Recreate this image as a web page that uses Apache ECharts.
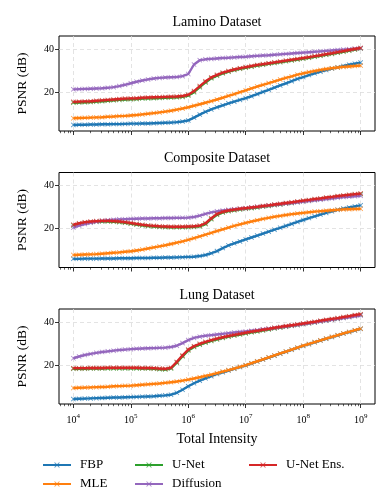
<!DOCTYPE html>
<html>
<head>
<meta charset="utf-8">
<script src="https://cdn.jsdelivr.net/npm/echarts@6/dist/echarts.min.js"></script>
<style>html,body{margin:0;padding:0;background:#fff}#c{width:390px;height:504px}</style>
</head>
<body>
<div id="c"></div>
<script>
// x: log10 of total intensity (10^4 ... 10^9)
const intensityExp = [4.0,4.1,4.2,4.3,4.4,4.5,4.6,4.7,4.8,4.9,5.0,5.1,5.2,5.3,5.4,5.5,5.6,5.7,5.8,5.9,6.0,6.1,6.2,6.3,6.4,6.5,6.6,6.7,6.8,6.9,7.0,7.1,7.2,7.3,7.4,7.5,7.6,7.7,7.8,7.9,8.0,8.1,8.2,8.3,8.4,8.5,8.6,8.7,8.8,8.9,9.0];
const majorTickExp = [4,5,6,7,8,9];
const yTicks = [20,40];
const panelTitles = ['Lamino Dataset','Composite Dataset','Lung Dataset'];
const methods = ['FBP','MLE','U-Net','Diffusion','U-Net Ens.'];

const laminoFBP = [4.8,4.9,4.9,5.0,5.0,5.1,5.1,5.2,5.2,5.3, 5.4,5.4,5.5,5.5,5.6,5.7,5.8,5.9,6.1,6.4, 6.9,8.2,9.6,10.9,12.0,13.0,13.9,14.8,15.6,16.4, 17.2,18.1,19.1,20.1,21.1,22.1,23.1,24.1,25.1,26.1, 27.0,27.9,28.7,29.5,30.2,30.9,31.5,32.1,32.7,33.2, 33.7];
const laminoMLE = [7.9,8.0,8.1,8.2,8.3,8.4,8.6,8.7,8.9,9.0, 9.2,9.4,9.7,10.0,10.3,10.6,11.0,11.4,11.9,12.4, 13.0,13.7,14.4,15.1,15.8,16.6,17.4,18.3,19.1,20.0, 20.8,21.7,22.6,23.4,24.2,25.0,25.8,26.6,27.3,28.1, 28.7,29.3,29.8,30.3,30.7,31.1,31.4,31.7,31.9,32.1, 32.3];
const laminoUNet = [15.1,15.2,15.3,15.4,15.6,15.8,16.0,16.2,16.4,16.6, 16.7,16.8,17.0,17.1,17.2,17.3,17.4,17.5,17.6,17.8, 18.4,20.0,22.3,24.5,26.4,27.6,28.7,29.5,30.2,30.8, 31.3,31.8,32.3,32.7,33.1,33.5,33.9,34.3,34.7,35.1, 35.5,35.9,36.4,36.8,37.3,37.7,38.2,38.7,39.2,39.7, 40.2];
const laminoDiffusion = [21.3,21.4,21.5,21.6,21.7,21.8,22.0,22.3,22.8,23.4, 24.1,24.8,25.4,25.9,26.3,26.6,26.8,26.9,27.0,27.4, 28.4,32.8,34.8,35.2,35.4,35.6,35.8,35.9,36.1,36.3, 36.4,36.6,36.8,37.0,37.1,37.3,37.5,37.7,37.9,38.1, 38.3,38.5,38.7,38.9,39.1,39.3,39.5,39.7,39.9,40.1, 40.3];
const laminoEns = [15.5,15.6,15.7,15.8,16.0,16.2,16.4,16.6,16.8,17.0, 17.1,17.2,17.4,17.5,17.6,17.7,17.8,17.9,18.0,18.2, 18.8,20.5,22.8,25.0,26.8,28.0,29.0,29.8,30.5,31.1, 31.6,32.1,32.6,33.0,33.4,33.8,34.2,34.6,35.0,35.4, 35.8,36.2,36.7,37.1,37.6,38.0,38.5,39.0,39.5,40.0, 40.5];

const compositeFBP = [6.0,6.0,6.1,6.1,6.1,6.2,6.2,6.2,6.3,6.3, 6.3,6.4,6.4,6.4,6.5,6.5,6.6,6.6,6.7,6.8, 6.9,7.0,7.3,7.8,8.6,9.6,11.0,12.2,13.2,14.1, 15.0,15.9,16.8,17.7,18.6,19.5,20.4,21.3,22.2,23.1, 24.0,24.9,25.7,26.5,27.3,28.0,28.7,29.3,29.8,30.3, 30.8];
const compositeMLE = [7.8,7.9,8.0,8.1,8.2,8.4,8.6,8.8,9.0,9.3, 9.5,9.9,10.3,10.8,11.3,11.8,12.3,12.9,13.5,14.1, 14.8,15.6,16.4,17.2,18.0,18.9,19.7,20.5,21.3,22.0, 22.7,23.3,23.9,24.5,25.0,25.5,25.9,26.3,26.7,27.0, 27.3,27.6,27.9,28.1,28.3,28.5,28.7,28.9,29.0,29.1, 29.2];
const compositeUNet = [21.5,22.2,22.7,23.0,23.2,23.3,23.3,23.2,23.0,22.7, 22.3,21.9,21.5,21.2,21.0,20.8,20.7,20.6,20.6,20.6, 20.7,20.8,21.1,22.1,24.4,26.4,27.5,28.1,28.5,28.9, 29.2,29.5,29.8,30.2,30.5,30.9,31.2,31.6,31.9,32.3, 32.7,33.0,33.4,33.7,34.1,34.4,34.8,35.1,35.4,35.7, 36.0];
const compositeDiffusion = [20.5,21.4,22.1,22.7,23.2,23.6,23.9,24.1,24.3,24.4, 24.5,24.6,24.7,24.7,24.8,24.8,24.9,24.9,25.0,25.0, 25.1,25.4,26.0,26.8,27.5,28.0,28.4,28.7,29.0,29.2, 29.5,29.8,30.1,30.4,30.7,31.0,31.3,31.6,31.9,32.2, 32.5,32.8,33.1,33.4,33.7,34.0,34.3,34.6,34.8,35.0, 35.2];
const compositeEns = [21.8,22.5,23.0,23.3,23.5,23.6,23.6,23.5,23.3,23.0, 22.6,22.2,21.8,21.5,21.3,21.1,21.0,20.9,20.9,20.9, 21.0,21.1,21.4,22.5,24.8,26.8,27.8,28.4,28.8,29.2, 29.5,29.8,30.1,30.5,30.8,31.2,31.5,31.9,32.2,32.6, 33.0,33.3,33.7,34.0,34.4,34.7,35.1,35.4,35.7,36.0, 36.3];

const lungFBP = [4.3,4.4,4.5,4.6,4.7,4.8,4.9,5.0,5.0,5.1, 5.2,5.3,5.4,5.5,5.6,5.8,6.0,6.3,7.2,8.6, 10.2,11.6,12.8,13.9,14.9,15.9,16.7,17.5,18.3,19.1, 19.9,20.8,21.7,22.6,23.5,24.4,25.3,26.2,27.1,28.0, 28.9,29.7,30.6,31.4,32.2,33.0,33.8,34.6,35.3,36.1, 36.8];
const lungMLE = [9.4,9.5,9.6,9.7,9.8,9.9,10.0,10.2,10.3,10.4, 10.5,10.7,10.9,11.1,11.3,11.5,11.8,12.1,12.4,12.8, 13.3,13.8,14.4,15.0,15.6,16.3,17.0,17.7,18.4,19.2, 20.0,20.9,21.8,22.7,23.6,24.5,25.4,26.3,27.2,28.1, 29.0,29.8,30.7,31.5,32.3,33.1,33.9,34.7,35.4,36.2, 36.9];
const lungUNet = [18.3,18.3,18.3,18.4,18.4,18.4,18.5,18.5,18.5,18.5, 18.5,18.5,18.4,18.4,18.3,18.1,18.0,18.5,21.1,24.1, 26.8,28.4,29.5,30.4,31.2,31.9,32.6,33.2,33.7,34.2, 34.7,35.2,35.6,36.1,36.5,37.0,37.4,37.8,38.2,38.6, 39.0,39.4,39.8,40.3,40.7,41.1,41.5,42.0,42.4,42.9, 43.3];
const lungDiffusion = [23.2,24.0,24.7,25.2,25.7,26.1,26.4,26.7,27.0,27.2, 27.4,27.6,27.7,27.8,27.9,28.0,28.1,28.4,29.0,30.2, 31.6,32.6,33.2,33.6,33.9,34.2,34.5,34.8,35.1,35.4, 35.6,35.9,36.2,36.6,36.9,37.2,37.6,37.9,38.3,38.6, 39.0,39.4,39.8,40.2,40.6,41.0,41.4,41.8,42.2,42.6, 43.0];
const lungEns = [18.6,18.6,18.6,18.7,18.7,18.7,18.8,18.8,18.8,18.8, 18.8,18.8,18.7,18.7,18.6,18.4,18.3,18.8,21.5,24.5, 27.2,28.8,29.9,30.8,31.6,32.3,32.9,33.5,34.0,34.5, 35.0,35.5,35.9,36.4,36.8,37.3,37.7,38.1,38.5,38.9, 39.3,39.7,40.1,40.6,41.0,41.4,41.8,42.3,42.7,43.2, 43.6];

const panels = [
  [laminoFBP, laminoMLE, laminoUNet, laminoDiffusion, laminoEns],
  [compositeFBP, compositeMLE, compositeUNet, compositeDiffusion, compositeEns],
  [lungFBP, lungMLE, lungUNet, lungDiffusion, lungEns]
];

const colors = ['#1f77b4','#ff7f0e','#2ca02c','#9467bd','#d62728'];
const FONT = 'Liberation Serif';
const xSym = 'path://M0,1.2L1.2,0L5,3.8L8.8,0L10,1.2L6.2,5L10,8.8L8.8,10L5,6.2L1.2,10L0,8.8L3.8,5Z';

// minor ticks positions (log10 of k*10^n)
const minorTicks = [];
for (let n = 3; n <= 9; n++) {
  for (let k = 2; k <= 9; k++) {
    const v = n + Math.log10(k);
    if (v >= 3.75 && v <= 9.25) minorTicks.push(v);
  }
}

const gridTops = [36, 172.5, 309];
const gridH = 95;
const grids = [], xAxes = [], yAxes = [], series = [], titles = [];
const gridColor = '#dcdcdc';

gridTops.forEach((top, i) => {
  grids.push({left: 59, right: 15, top: top, height: gridH, show: true, borderColor: '#000', borderWidth: 1, backgroundColor: 'transparent'});
  const isLast = i === 2;
  xAxes.push({
    type: 'value', gridIndex: i, position: 'bottom', min: 3.75, max: 9.25,
    axisLine: {show: false},
    axisTick: {show: true, inside: false, length: 4, customValues: majorTickExp, lineStyle: {color: '#000', width: 0.8}},
    axisLabel: {show: isLast, customValues: majorTickExp, margin: 9,
      formatter: v => '{b|10}{s|' + Math.round(v) + '}',
      rich: {b: {fontFamily: FONT, fontSize: 10, color: '#000', lineHeight: 14},
             s: {fontFamily: FONT, fontSize: 7, color: '#000', verticalAlign: 'top', lineHeight: 8}}},
    splitLine: {show: true, customValues: majorTickExp, lineStyle: {color: gridColor, type: [4, 3], width: 0.8}},
    name: isLast ? 'Total Intensity' : '', nameLocation: 'middle', nameGap: 28,
    nameTextStyle: {fontFamily: FONT, fontSize: 14, color: '#000'}
  });
  xAxes.push({
    type: 'value', gridIndex: i, position: 'bottom', offset: 0, min: 3.75, max: 9.25,
    axisLine: {show: false},
    axisTick: {show: true, inside: false, length: 2.2, customValues: minorTicks, lineStyle: {color: '#000', width: 0.6}},
    axisLabel: {show: false}, splitLine: {show: false}
  });
  yAxes.push({
    type: 'value', gridIndex: i, min: 2, max: 46,
    axisLine: {show: false},
    axisTick: {show: true, inside: false, length: 4, customValues: yTicks, lineStyle: {color: '#000', width: 0.8}},
    axisLabel: {customValues: yTicks, fontFamily: FONT, fontSize: 10, color: '#000', margin: 5},
    splitLine: {show: true, customValues: yTicks, lineStyle: {color: gridColor, type: [4, 3], width: 0.8}},
    name: 'PSNR (dB)', nameLocation: 'middle', nameRotate: 90, nameGap: 30,
    nameTextStyle: {fontFamily: FONT, fontSize: 13.5, color: '#000'}
  });
  titles.push({text: panelTitles[i], left: 217, textAlign: 'center', top: top - 21,
    textStyle: {fontFamily: FONT, fontSize: 14, fontWeight: 'normal', color: '#000'}, padding: 0});
  panels[i].forEach((vals, m) => {
    series.push({
      name: methods[m], type: 'line', xAxisIndex: i * 2, yAxisIndex: i,
      data: intensityExp.map((x, k) => [x, vals[k]]),
      symbol: xSym, symbolSize: 5, showSymbol: true,
      lineStyle: {width: 2.4, color: colors[m]},
      itemStyle: {color: colors[m], opacity: 0.75},
      emphasis: {disabled: true}, animation: false, z: 2 + m
    });
  });
});

const legendText = {fontFamily: FONT, fontSize: 13, color: '#000', lineHeight: 14, padding: [0, 0, 0, 4]};
const legendCommon = {orient: 'vertical', top: 458, itemWidth: 28, itemHeight: 7, itemGap: 5, textStyle: legendText, padding: 0, selectedMode: false};

const chart = echarts.init(document.getElementById('c'), null, {renderer: 'canvas'});
chart.setOption({
  animation: false,
  color: colors,
  title: titles,
  grid: grids,
  xAxis: xAxes,
  yAxis: yAxes,
  legend: [
    Object.assign({left: 42, data: ['FBP', 'MLE']}, legendCommon),
    Object.assign({left: 134, data: ['U-Net', 'Diffusion']}, legendCommon),
    Object.assign({left: 248, data: ['U-Net Ens.']}, legendCommon)
  ],
  series: series
});
</script>
</body>
</html>
